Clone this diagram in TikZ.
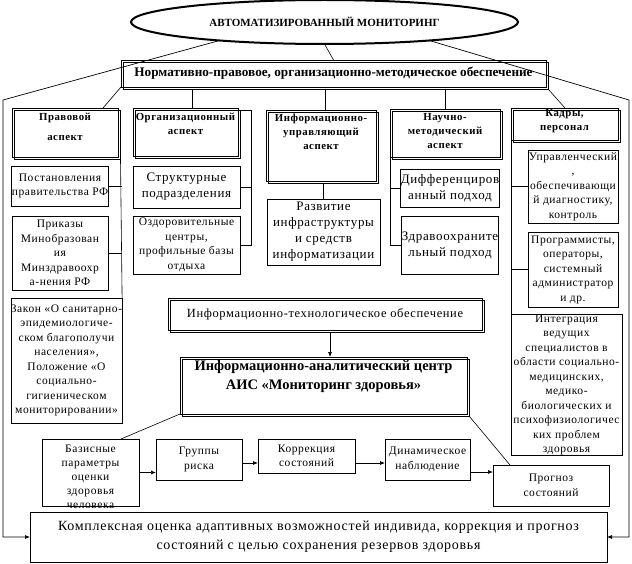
\documentclass[tikz,border=0pt]{standalone}
\usepackage{fontspec}
\setmainfont{Liberation Serif}
\newfontfamily\spfont[LetterSpace=5]{Liberation Serif}
\usetikzlibrary{shapes.geometric,arrows.meta,calc}
\begin{document}
\begin{tikzpicture}[x=1pt,y=-1pt,
  every node/.style={inner sep=0pt, outer sep=0pt},
  box/.style={draw, line width=0.7pt, align=center, font=\spfont\fontsize{11.5}{14.5}\selectfont},
  bigbox/.style={box, font=\spfont\fontsize{13}{16}\selectfont},
  hdr/.style={draw, line width=0.7pt, preaction={draw, line width=0.7pt, transform canvas={xshift=2.5pt,yshift=-2.5pt}}},
  hdrtxt/.style={align=center, anchor=north, font=\spfont\bfseries\fontsize{10.8}{14}\selectfont},
  ln/.style={line width=0.6pt},
  arr/.style={line width=0.7pt, -{Latex[length=5pt,width=4pt]}},
]
\useasboundingbox (0,0) rectangle (632,564);

% top
\node[draw, ellipse, line width=2pt, minimum width=387, minimum height=44,
  font=\bfseries\fontsize{11}{13}\selectfont] (ell) at (324.5,22) {АВТОМАТИЗИРОВАННЫЙ МОНИТОРИНГ};
\node[hdr, minimum width=425, minimum height=27, font=\bfseries\fontsize{13.2}{15}\selectfont]
  (norm) at (333.5,73.5) {Нормативно-правовое, организационно-методическое обеспечение};
\coordinate (normb) at ($(norm.south)+(0,2.5)$);

% headers
\node[hdr, minimum width=106, minimum height=49] (h1) at (65,132.5) {};
\node[hdrtxt] (h1t) at ($(h1.north)+(0,5)$) {Правовой\\[6pt]аспект};
\node[hdr, minimum width=105, minimum height=48] (h2) at (185.5,132) {};
\node[hdrtxt] (h2t) at ($(h2.north)+(0,5)$) {Организационный\\аспект};
\node[hdr, minimum width=110, minimum height=71] (h3) at (321,145.5) {};
\node[hdrtxt] (h3t) at ($(h3.north)+(0,4)$) {Информационно-\\управляющий\\аспект};
\node[hdr, minimum width=110, minimum height=48] (h4) at (445,133) {};
\node[hdrtxt] (h4t) at ($(h4.north)+(0,4)$) {Научно-\\методический\\аспект};
\node[hdr, minimum width=107, minimum height=32] (h5) at (564.5,124) {};
\node[hdrtxt] (h5t) at ($(h5.north)+(0,1)$) {Кадры,\\персонал};

% column 1
\node[box, minimum width=96, minimum height=40] (postan) at (60,186) {Постановления\\правительства РФ};
\node[box, minimum width=96, minimum height=74] (prikaz) at (60,253) {Приказы\\Минобразован\\ия\\Минздравоохр\\а-нения РФ};
\node[box, minimum width=108, minimum height=125] (zakon) at (66.5,360.5) {Закон «О санитарно-\\эпидемиологиче-\\ском благополучи\\населения»,\\Положение «О\\социально-\\гигиеническом\\мониторировании»};
\draw[ln] ($(h1.south east)+(2.5,2.5)$) -- (zakon.north east);
\draw[ln] (postan.east) -- (postan.east -| zakon.east);
\draw[ln] (prikaz.east) -- (prikaz.east -| zakon.east);

% column 2
\node[bigbox, minimum width=107, minimum height=42] (strukt) at (186.5,187) {Структурные\\подразделения};
\node[box, minimum width=107, minimum height=58] (ozdor) at (186.5,245) {Оздоровительные\\центры,\\профильные базы\\отдыха};
\coordinate (c2top) at ($(h2.north east)+(13,2.5)$);
\draw[ln] ($(h2.north east)+(2.5,2.5)$) -- (c2top) |- (ozdor.east);
\draw[ln] (strukt.east) -- (strukt.east -| c2top);

% column 3
\node[bigbox, minimum width=113, minimum height=66] (razv) at (323.5,232) {Развитие\\инфраструктуры\\и средств\\информатизации};
\draw[ln] (razv.north) -- ($(h3.south)+(2.5,2.5)$);

% column 4
\node[bigbox, minimum width=96, minimum height=38] (diff) at (450,188) {Дифференциров\\анный подход};
\node[bigbox, minimum width=96, minimum height=58] (zdrav) at (450,245) {Здравоохраните\\льный подход};
\draw[ln] (h4.south west) |- (zdrav.west);
\draw[ln] (diff.west) -- (diff.west -| h4.west);

% column 5
\node[box, minimum width=90, minimum height=73] (upr) at (573,186.5) {Управленческий\\,\\обеспечивающи\\й диагностику,\\контроль};
\node[box, minimum width=90, minimum height=75] (progr) at (573,269.5) {Программисты,\\операторы,\\системный\\администратор\\и др.};
\node[box, minimum width=111, minimum height=140] (integr) at (566.5,385) {Интеграция\\ведущих\\специалистов в\\области социально-\\медицинских,\\медико-\\биологических и\\психофизиологичес\\ких проблем\\здоровья};
\draw[ln] (h5.south west) -- (integr.north west);
\draw[ln] (upr.west) -- (upr.west -| h5.west);
\draw[ln] (progr.west) -- (progr.west -| h5.west);

% top connectors
\draw[ln] (ell.south) -- (norm.north);
\draw[ln] ($(h2.north)+(7,0)$) -- ($(h2.north |- normb)+(7,0)$);
\draw[ln] ($(h3.north)+(4,0)$) -- ($(h3.north |- normb)+(4,0)$);
\draw[ln] (h4.north) -- (h4.north |- normb);
\draw[ln] (norm.south west) -- ($(h1.north east)+(-15,0)$);
\draw[ln] ($(norm.south east)+(2.5,2.5)$) -- ($(h5.north west)+(54,0)$);

% centre
\node[hdr, minimum width=314, minimum height=32, font=\spfont\fontsize{12.5}{14}\selectfont] (itech) at (325,314) {Информационно-технологическое обеспечение};
\node[hdr, minimum width=287, minimum height=57] (cbox) at (323.5,385.5) {};
\node[align=center, anchor=north, font=\bfseries\fontsize{14.5}{19}\selectfont] (cboxt) at ($(cbox.north)+(0,3)$) {Информационно-аналитический центр\\АИС «Мониторинг здоровья»};
\coordinate (ia) at ($(itech.south)+(5,2.5)$);
\draw[arr] (ia) -- (ia |- cbox.north);

% bottom row
\node[box, minimum width=97, minimum height=67] (bazis) at (90.5,472.5) {};
\node[align=center, anchor=north, font=\spfont\fontsize{11.5}{14}\selectfont] (bazist) at ($(bazis.north)+(0,6)$) {Базисные\\параметры\\оценки\\здоровья\\человека};
\node[box, minimum width=86, minimum height=41] (grup) at (199,459.5) {Группы\\риска};
\node[box, minimum width=97, minimum height=34] (korr) at (306.5,456) {Коррекция\\состояний};
\node[box, minimum width=85, minimum height=41] (dinam) at (427.5,459.5) {Динамическое\\наблюдение};
\node[box, minimum width=116, minimum height=41] (prog) at (551,485.5) {Прогноз\\состояний};
\node[box, fill=white, minimum width=577, minimum height=50, font=\spfont\fontsize{14}{19}\selectfont] (final) at (318.5,537) {Комплексная оценка адаптивных возможностей индивида, коррекция и прогноз\\состояний с целью сохранения резервов здоровья};

\draw[ln] (cbox.south west) -- ($(bazis.north east)+(-18,0)$);
\draw[ln] ($(cbox.south east)+(2.5,2.5)$) -- ($(prog.north west)+(17,0)$);

\draw[arr] (bazis.east) -- (bazis.east -| grup.west);
\draw[arr] ($(grup.east)+(0,3.5)$) -- ($(grup.east -| korr.west)+(0,3.5)$);
\draw[arr] ($(korr.east)+(0,7)$) -- ($(korr.east -| dinam.west)+(0,7)$);
\draw[arr] ($(dinam.south east)+(0,-8)$) -- ($(dinam.south east -| prog.west)+(0,-8)$);

% outer lines
\coordinate (lc) at (3,100);
\coordinate (rc) at (629,100);
\draw[arr] (ell.190) -- (lc) |- (final.west);
\draw[arr] (ell.-10) -- (rc) |- (final.east);
\end{tikzpicture}
\end{document}
